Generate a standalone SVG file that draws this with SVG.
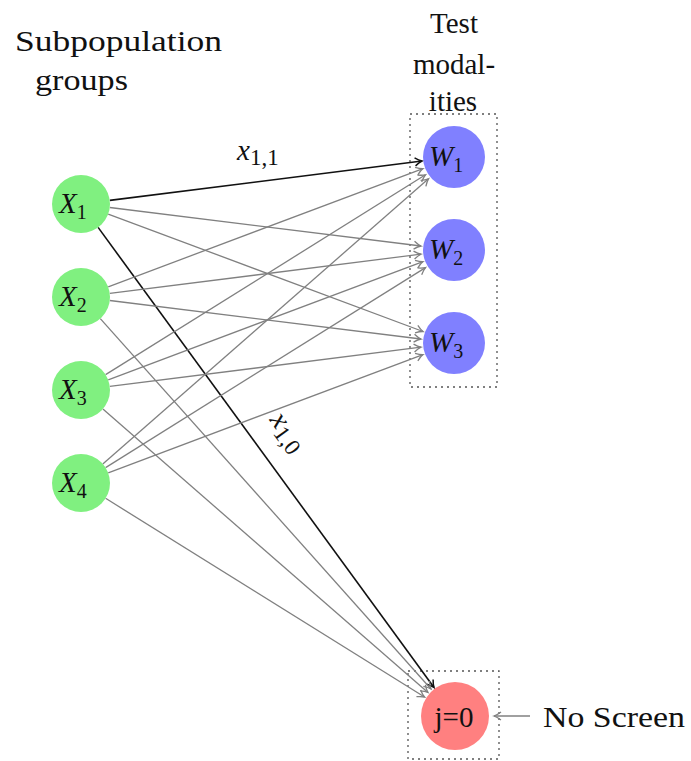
<svg xmlns="http://www.w3.org/2000/svg" width="691" height="761" viewBox="0 0 691 761">
  <style>
    text { font-family: 'Liberation Serif', 'Times New Roman', Times, 'Noto Serif', 'DejaVu Serif', serif; fill: #111; }
    .lbl { font-size: 29px; }
    .math { font-style: italic; font-size: 29px; }
    .sub { font-style: normal; font-size: 20px; }
    .esub { font-style: normal; font-size: 23px; }
    .edge { fill: none; stroke: #808080; stroke-width: 1.3; marker-end: url(#arrGray); }
    .edge.hi { stroke: #111; stroke-width: 1.6; marker-end: url(#arrBlack); }
    .frame { fill: none; stroke: #555; stroke-width: 1.3; stroke-dasharray: 2 4; }
    .grp { fill: #80f080; }
    .mod { fill: #8080ff; }
    .none { fill: #ff8080; }
  </style>
  <defs>
    <marker id="arrGray" viewBox="-8 -5 10 10" refX="0" refY="0" markerWidth="10" markerHeight="10" markerUnits="userSpaceOnUse" orient="auto">
      <path d="M-7,-4 Q-3,-1 0,0 Q-3,1 -7,4" fill="none" stroke="#808080" stroke-width="1.3"/>
    </marker>
    <marker id="arrBlack" viewBox="-8 -5 10 10" refX="0" refY="0" markerWidth="10" markerHeight="10" markerUnits="userSpaceOnUse" orient="auto">
      <path d="M-7,-4 Q-3,-1 0,0 Q-3,1 -7,4" fill="none" stroke="#111" stroke-width="1.5"/>
    </marker>
  </defs>

  <rect width="691" height="761" fill="#fff"/>

  <!-- column headings -->
  <g>
    <text class="lbl" x="15" y="51" textLength="207" lengthAdjust="spacingAndGlyphs">Subpopulation</text>
    <text class="lbl" x="35" y="90" textLength="93" lengthAdjust="spacingAndGlyphs">groups</text>
    <text class="lbl" x="454" y="33" text-anchor="middle">Test</text>
    <text class="lbl" x="454" y="74" text-anchor="middle">modal-</text>
    <text class="lbl" x="453" y="111" text-anchor="middle">ities</text>
  </g>

  <!-- dotted frames -->
  <rect class="frame" x="410" y="114" width="87" height="273"/>
  <rect class="frame" x="408" y="671" width="91" height="88"/>

  <!-- connectors -->
  <g id="connectors">
    <line class="edge hi" x1="109.8" y1="200.4" x2="422" y2="161"/>
    <line class="edge" x1="109.8" y1="207.5" x2="421" y2="246"/>
    <line class="edge" x1="108.2" y1="214.1" x2="423" y2="331.5"/>
    <line class="edge hi" x1="98.1" y1="227.4" x2="434" y2="687.5"/>

    <line class="edge" x1="108.2" y1="286.8" x2="423" y2="168.6"/>
    <line class="edge" x1="109.8" y1="293.4" x2="421" y2="254.2"/>
    <line class="edge" x1="109.8" y1="300.5" x2="421" y2="339"/>
    <line class="edge" x1="100.3" y1="318.6" x2="431" y2="689"/>

    <line class="edge" x1="105.6" y1="374.6" x2="425.5" y2="174.8"/>
    <line class="edge" x1="108.2" y1="379.8" x2="423" y2="261.6"/>
    <line class="edge" x1="109.8" y1="386.4" x2="421" y2="347.2"/>
    <line class="edge" x1="102.9" y1="409.1" x2="428" y2="692.5"/>

    <line class="edge" x1="102.8" y1="463.9" x2="428.5" y2="178.8"/>
    <line class="edge" x1="105.6" y1="467.6" x2="425.5" y2="267.6"/>
    <line class="edge" x1="108.2" y1="472.8" x2="423" y2="354.6"/>
    <line class="edge" x1="105.6" y1="498.3" x2="424.5" y2="697"/>

    <line class="edge" x1="530" y1="716" x2="494" y2="716"/>
  </g>

  <!-- edge labels -->
  <text class="math" x="237" y="160" font-size="27">x<tspan class="esub" dy="5">1,1</tspan></text>
  <text class="math" font-size="27" transform="translate(269,420) rotate(54)">x<tspan class="esub" dy="5">1,0</tspan></text>

  <!-- subpopulation groups -->
  <g id="X1"><circle class="grp" cx="81" cy="204" r="29"/><text class="math" x="59" y="213">X<tspan class="sub" dy="6">1</tspan></text></g>
  <g id="X2"><circle class="grp" cx="81" cy="297" r="29"/><text class="math" x="59" y="306">X<tspan class="sub" dy="6">2</tspan></text></g>
  <g id="X3"><circle class="grp" cx="81" cy="390" r="29"/><text class="math" x="59" y="399">X<tspan class="sub" dy="6">3</tspan></text></g>
  <g id="X4"><circle class="grp" cx="81" cy="483" r="29"/><text class="math" x="59" y="492">X<tspan class="sub" dy="6">4</tspan></text></g>

  <!-- test modalities -->
  <g id="W1"><circle class="mod" cx="454" cy="157" r="31"/><text class="math" x="429" y="166">W<tspan class="sub" dy="6">1</tspan></text></g>
  <g id="W2"><circle class="mod" cx="454" cy="250" r="31"/><text class="math" x="429" y="259">W<tspan class="sub" dy="6">2</tspan></text></g>
  <g id="W3"><circle class="mod" cx="454" cy="343" r="31"/><text class="math" x="429" y="352">W<tspan class="sub" dy="6">3</tspan></text></g>

  <!-- no screening -->
  <g id="J0"><circle class="none" cx="455" cy="716" r="34"/><text class="lbl" x="454" y="727" text-anchor="middle">j=0</text></g>
  <g id="NoScreen"><text class="lbl" x="543" y="727" textLength="142" lengthAdjust="spacingAndGlyphs">No Screen</text></g>
</svg>
